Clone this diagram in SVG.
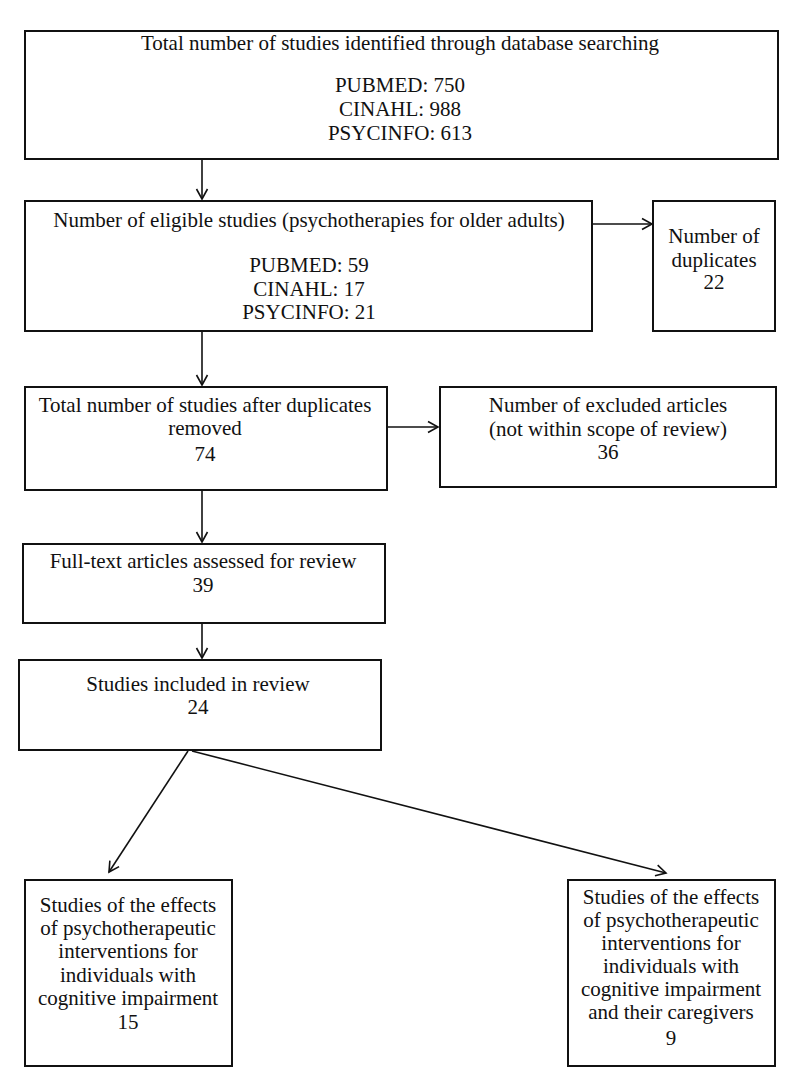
<svg xmlns="http://www.w3.org/2000/svg" width="787" height="1084" viewBox="0 0 787 1084">
<defs>
<style>
.box{fill:#fff;stroke:#111;stroke-width:2}
.t{font-family:"Liberation Serif","Times New Roman",serif;font-size:21px;fill:#111;text-anchor:middle}
.c{stroke:#111;stroke-width:1.6;fill:none}
</style>
<marker id="ah" markerWidth="14" markerHeight="14" refX="11" refY="7" orient="auto" markerUnits="userSpaceOnUse">
<path d="M1,1.5 L11,7 L1,12.5" fill="none" stroke="#111" stroke-width="1.6"/>
</marker>
</defs>
<rect width="787" height="1084" fill="#fff"/>
<g id="connectors">
<line class="c" x1="202" y1="159" x2="202" y2="199" marker-end="url(#ah)"/>
<line class="c" x1="593" y1="224" x2="652" y2="224" marker-end="url(#ah)"/>
<line class="c" x1="202" y1="332" x2="202" y2="385" marker-end="url(#ah)"/>
<line class="c" x1="388" y1="427" x2="438" y2="427" marker-end="url(#ah)"/>
<line class="c" x1="202" y1="490" x2="202" y2="542" marker-end="url(#ah)"/>
<line class="c" x1="202" y1="623" x2="202" y2="658" marker-end="url(#ah)"/>
<line class="c" x1="188" y1="751" x2="109" y2="872" marker-end="url(#ah)"/>
<line class="c" x1="192" y1="751" x2="666" y2="873" marker-end="url(#ah)"/>
</g>
<g id="n1">
<rect class="box" x="25" y="31" width="753" height="128"/>
<text class="t" x="400" y="50">Total number of studies identified through database searching</text>
<text class="t" x="400" y="92">PUBMED: 750</text>
<text class="t" x="400" y="116">CINAHL: 988</text>
<text class="t" x="400" y="140">PSYCINFO: 613</text>
</g>
<g id="n2">
<rect class="box" x="25" y="201" width="567" height="130"/>
<text class="t" x="309" y="227">Number of eligible studies (psychotherapies for older adults)</text>
<text class="t" x="309" y="272">PUBMED: 59</text>
<text class="t" x="309" y="296">CINAHL: 17</text>
<text class="t" x="309" y="319">PSYCINFO: 21</text>
</g>
<g id="n3">
<rect class="box" x="653" y="201" width="122" height="130"/>
<text class="t" x="714" y="243">Number of</text>
<text class="t" x="714" y="267">duplicates</text>
<text class="t" x="714" y="289">22</text>
</g>
<g id="n4">
<rect class="box" x="25" y="387" width="362" height="103"/>
<text class="t" x="205" y="412">Total number of studies after duplicates</text>
<text class="t" x="205" y="435">removed</text>
<text class="t" x="205" y="461">74</text>
</g>
<g id="n5">
<rect class="box" x="440" y="387" width="336" height="100"/>
<text class="t" x="608" y="412">Number of excluded articles</text>
<text class="t" x="608" y="436">(not within scope of review)</text>
<text class="t" x="608" y="459">36</text>
</g>
<g id="n6">
<rect class="box" x="23" y="544" width="362" height="79"/>
<text class="t" x="203" y="568">Full-text articles assessed for review</text>
<text class="t" x="203" y="592">39</text>
</g>
<g id="n7">
<rect class="box" x="19" y="660" width="362" height="90"/>
<text class="t" x="198" y="691">Studies included in review</text>
<text class="t" x="198" y="714">24</text>
</g>
<g id="n8">
<rect class="box" x="25" y="880" width="207" height="186"/>
<text class="t" x="128" y="912">Studies of the effects</text>
<text class="t" x="128" y="935">of psychotherapeutic</text>
<text class="t" x="128" y="958">interventions for</text>
<text class="t" x="128" y="982">individuals with</text>
<text class="t" x="128" y="1005">cognitive impairment</text>
<text class="t" x="128" y="1029">15</text>
</g>
<g id="n9">
<rect class="box" x="568" y="880" width="207" height="186"/>
<text class="t" x="671" y="904">Studies of the effects</text>
<text class="t" x="671" y="927">of psychotherapeutic</text>
<text class="t" x="671" y="950">interventions for</text>
<text class="t" x="671" y="973">individuals with</text>
<text class="t" x="671" y="996">cognitive impairment</text>
<text class="t" x="671" y="1019">and their caregivers</text>
<text class="t" x="671" y="1045">9</text>
</g>
</svg>
